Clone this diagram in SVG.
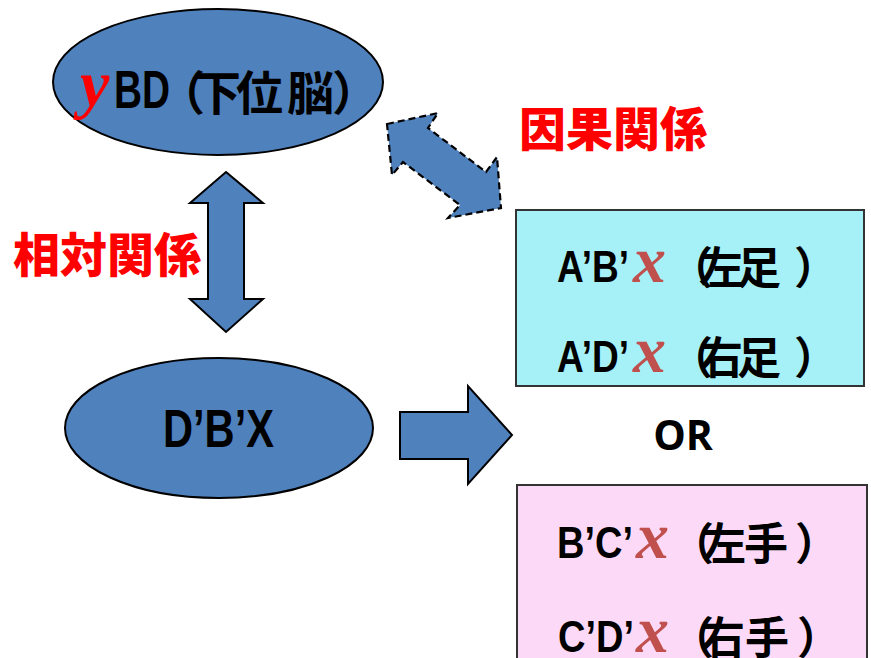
<svg xmlns="http://www.w3.org/2000/svg" width="871" height="658" viewBox="0 0 871 658">
<style>
.shape{fill:#4F81BD;stroke:#000;stroke-width:2}
.dash{fill:#4F81BD;stroke:#000;stroke-width:2.2;stroke-dasharray:7 4}
.lat{font-family:"Liberation Sans",Arial,sans-serif;font-weight:bold;fill:#000}
.cjk{font-family:"Noto Sans CJK JP","Noto Sans CJK SC",sans-serif;font-weight:bold;fill:#000}
.var{font-family:"Liberation Serif","Times New Roman",serif;font-weight:bold;font-style:italic}
.lbl{font-family:"Noto Sans CJK JP","Noto Sans CJK SC",sans-serif;font-weight:900;fill:#FF0000;font-size:47px}
</style>
<rect width="871" height="658" fill="#fff"/>
<g id="connectors">
  <path class="shape" d="M226,172 L263,203 L244,203 L244,299 L263,299 L226,332 L190,299 L208,299 L208,203 L190,203 Z"/>
  <path class="dash" d="M387,124 L438,113 L428,128 L486,172 L497,157 L501,208 L448,218 L460,205 L403,162 L392,175 Z"/>
  <path class="shape" d="M400,412 L468,412 L468,386 L512,435 L468,484 L468,459 L400,459 Z"/>
  <text id="label-soutai" class="lbl" x="13" y="272">相対関係</text>
  <text id="label-inga" class="lbl" x="519" y="146">因果関係</text>
</g>
<g id="node-ybd">
  <ellipse class="shape" cx="218" cy="82" rx="165" ry="73"/>
  <text class="var" x="80" y="106" font-size="66" fill="#FF0000">y</text>
  <text class="lat" x="114" y="108" font-size="53" textLength="56" lengthAdjust="spacingAndGlyphs">BD</text>
  <text class="cjk" x="158 194 236 287 332" y="110" font-size="47">（下位脳）</text>
</g>
<g id="node-dbx">
  <ellipse class="shape" cx="219" cy="428" rx="154" ry="70"/>
  <text class="lat" x="163" y="447" font-size="53" textLength="111" lengthAdjust="spacingAndGlyphs">D’B’X</text>
</g>
<g id="node-foot">
  <rect x="516" y="210" width="348" height="176" fill="#A6F0F8" stroke="#333" stroke-width="2"/>
  <text class="lat" x="557" y="282" font-size="45" textLength="72" lengthAdjust="spacingAndGlyphs">A’B’</text>
  <text class="var" x="633" y="282" font-size="66" fill="#C0504D">x</text>
  <text class="cjk" x="669 699 737 794" y="284" font-size="44">（左足）</text>
  <text class="lat" x="557" y="372" font-size="45" textLength="72" lengthAdjust="spacingAndGlyphs">A’D’</text>
  <text class="var" x="633" y="372" font-size="66" fill="#C0504D">x</text>
  <text class="cjk" x="669 699 737 794" y="374" font-size="44">（右足）</text>
</g>
<g id="or-label">
  <text x="683" y="450" font-family="'Open Sans','Noto Sans',sans-serif" font-weight="bold" font-size="41" text-anchor="middle" fill="#000">OR</text>
</g>
<g id="node-hand">
  <rect x="517" y="485" width="350" height="200" fill="#FDD9F8" stroke="#333" stroke-width="2"/>
  <text class="lat" x="557" y="558" font-size="45" textLength="76" lengthAdjust="spacingAndGlyphs">B’C’</text>
  <text class="var" x="636" y="558" font-size="66" fill="#C0504D">x</text>
  <text class="cjk" x="670 702 744 795" y="560" font-size="44">（左手）</text>
  <text class="lat" x="558" y="652" font-size="45" textLength="76" lengthAdjust="spacingAndGlyphs">C’D’</text>
  <text class="var" x="636" y="652" font-size="66" fill="#C0504D">x</text>
  <text class="cjk" x="670 701 745 797" y="654" font-size="44">（右手）</text>
</g>
</svg>
